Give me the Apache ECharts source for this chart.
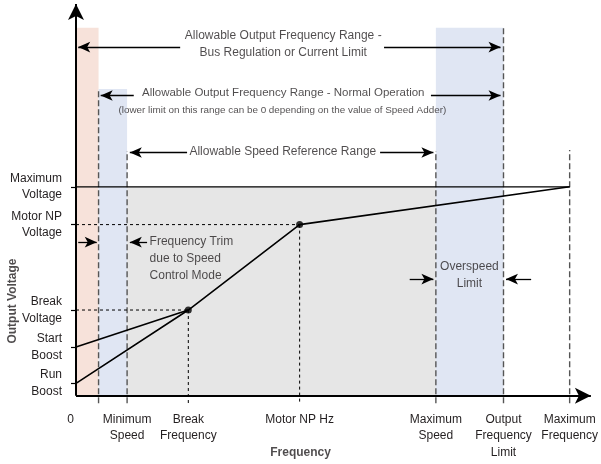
<!DOCTYPE html>
<html><head><meta charset="utf-8">
<script src="https://cdn.jsdelivr.net/npm/echarts@6/dist/echarts.min.js"></script>
<style>html,body{margin:0;padding:0;background:#fff}#c{width:601px;height:464px}</style>
</head><body><div id="c"></div>
<script>
// ---- data (frequency units: Maximum Frequency = 100; voltage units: Maximum Voltage = 100) ----
const freqNames = ['0', 'Minimum\nSpeed', 'Break\nFrequency', 'Motor NP Hz', 'Maximum\nSpeed', 'Output\nFrequency\nLimit', 'Maximum\nFrequency'];
const freqValues = [0, 10.35, 22.75, 45.3, 72.9, 86.6, 100];
const voltNames = ['Run\nBoost', 'Start\nBoost', 'Break\nVoltage', 'Motor NP\nVoltage', 'Maximum\nVoltage'];
const voltValues = [5.9, 23.3, 41.0, 81.9, 100];
const lowerFreqLimit = 4.57;          // lower limit of normal operation range
const busRangeTop = 176.2;            // height of bus-regulation bands
const normalRangeTop = 146.8;         // height of normal-operation band (left)
const speedRefTop = 117.1;            // top of speed reference dashed lines
const maxFreqTop = 117.6;
const belowAxis = -3.6;

const FONT = '"Liberation Sans","Arial",sans-serif';
const TXT = '#231f20';
const FS = 12;

const [F0, FMIN, FBRK, FNP, FMAXS, FOUT, FMAX] = freqValues;
const [VRUN, VSTART, VBRK, VNP, VMAX] = voltValues;

// annotation arrows: [from, to] in data units
const annArrows = [
  [[21.1, 166.9], [0.45, 166.9]],
  [[62.4, 166.9], [86.0, 166.9]],
  [[11.7, 143.7], [5.0, 143.7]],
  [[71.9, 143.7], [86.0, 143.7]],
  [[22.5, 116.4], [10.9, 116.4]],
  [[61.6, 116.4], [72.4, 116.4]],
  [[0.45, 73.5], [4.2, 73.5]],
  [[14.4, 73.5], [10.9, 73.5]],
  [[67.6, 55.8], [72.4, 55.8]],
  [[92.2, 55.8], [87.1, 55.8]]
];
// annotation texts: [x, y, text, fontSize, align]
const annTexts = [
  [41.98, 168.1, 'Allowable Output Frequency Range -\nBus Regulation or Current Limit', FS, 'center'],
  [41.98, 144.9, 'Allowable Output Frequency Range - Normal Operation', 11.5, 'center'],
  [41.8, 136.7, '(lower limit on this range can be 0 depending on the value of Speed Adder)', 9.9, 'center'],
  [41.9, 116.6, 'Allowable Speed Reference Range', FS, 'center'],
  [14.9, 65.4, 'Frequency Trim\ndue to Speed\nControl Mode', FS, 'left'],
  [79.7, 57.5, 'Overspeed\nLimit', FS, 'center']
];
const axisTitles = [
  [45.5, -27.5, 'Frequency', 0],
  [-12.9, 45.3, 'Output Voltage', 90]
];

const chart = echarts.init(document.getElementById('c'), null, {renderer: 'canvas'});

const vDashedLong = [
  [lowerFreqLimit, normalRangeTop],
  [FMIN, speedRefTop],
  [FMAXS, speedRefTop],
  [FOUT, busRangeTop + 0.4],
  [FMAX, maxFreqTop]
];
const series = [];
// bands
series.push({
  type: 'line', data: [], silent: true,
  markArea: {
    silent: true,
    data: [
      [{xAxis: F0, yAxis: 0, itemStyle: {color: '#f7e2da'}}, {xAxis: lowerFreqLimit, yAxis: busRangeTop}],
      [{xAxis: lowerFreqLimit, yAxis: 0, itemStyle: {color: '#e0e6f3'}}, {xAxis: FMIN, yAxis: normalRangeTop}],
      [{xAxis: FMIN, yAxis: 0, itemStyle: {color: '#e6e6e6'}}, {xAxis: FMAXS, yAxis: VMAX}],
      [{xAxis: FMAXS, yAxis: 0, itemStyle: {color: '#e0e6f3'}}, {xAxis: FOUT, yAxis: busRangeTop}]
    ]
  }
});
// long dashed verticals
vDashedLong.forEach(([x, top]) => series.push({
  type: 'line', data: [[x, belowAxis], [x, top]], symbol: 'none', silent: true,
  lineStyle: {color: '#555', width: 1.4, type: [6, 3]}
}));
// short dashed guide lines
[[[F0, VNP], [FNP, VNP]], [[F0, VBRK], [FBRK, VBRK]], [[FBRK, VBRK], [FBRK, -4]], [[FNP, VNP], [FNP, -4]]].forEach(d => series.push({
  type: 'line', data: d, symbol: 'none', silent: true,
  lineStyle: {color: '#000', width: 1, type: [3, 3]}
}));
// maximum voltage line
series.push({type: 'line', data: [[F0, VMAX], [FMAX, VMAX]], symbol: 'none', lineStyle: {color: '#000', width: 1.3}});
// V/Hz curves
series.push({type: 'line', data: [[F0, VSTART], [FBRK, VBRK]], symbol: 'none', lineStyle: {color: '#000', width: 1.6}});
series.push({type: 'line', data: [[F0, VRUN], [FBRK, VBRK], [FNP, VNP], [FMAX, VMAX]], symbol: 'none', lineStyle: {color: '#000', width: 1.6}});
series.push({type: 'scatter', data: [[FBRK, VBRK], [FNP, VNP]], symbolSize: 7, itemStyle: {color: '#000'}});
// axes with arrows + annotation arrows
series.push({
  type: 'line', data: [], silent: true,
  markLine: {
    silent: true, symbol: ['none', 'arrow'], label: {show: false},
    lineStyle: {color: '#000', width: 2, type: 'solid'},
    symbolSize: [12, 16],
    data: [
      [{coord: [0, 0]}, {coord: [104.3, 0]}],
      [{coord: [0, 0]}, {coord: [0, 187.5]}]
    ]
  }
});
series.push({
  type: 'line', data: [], silent: true,
  markLine: {
    silent: true, symbol: ['none', 'arrow'], label: {show: false},
    lineStyle: {color: '#000', width: 1.3, type: 'solid'},
    symbolSize: [8, 12],
    data: annArrows.map(([a, b]) => [{coord: a}, {coord: b}])
  }
});
// texts
series.push({
  type: 'scatter', symbolSize: 0, clip: false, silent: true,
  data: annTexts.map(([x, y, t, fs, al]) => ({
    value: [x, y],
    label: {show: true, position: 'inside', formatter: t, fontSize: fs, lineHeight: 17, align: al, verticalAlign: 'middle', color: TXT, fontFamily: FONT}
  })).concat(axisTitles.map(([x, y, t, r]) => ({
    value: [x, y],
    label: {show: true, position: 'inside', formatter: t, fontSize: 12, fontWeight: 'bold', rotate: r, align: 'center', verticalAlign: 'middle', color: TXT, fontFamily: FONT}
  })))
});

chart.setOption({
  animation: false,
  grid: {left: 76, right: 6, top: 3, bottom: 60, containLabel: false},
  xAxis: {
    type: 'value', min: 0, max: 104.5,
    splitLine: {show: false},
    axisLine: {show: false, onZero: false},
    axisTick: {show: false},
    axisLabel: {
      customValues: freqValues, margin: 7, color: TXT, fontSize: FS, lineHeight: 16.5, fontFamily: FONT,
      formatter: v => { const i = freqValues.indexOf(v); return i === 0 ? '{z|' + freqNames[0] + '}' : (freqNames[i] || ''); },
      rich: {z: {padding: [0, 11, 0, 0], fontSize: FS, color: TXT, fontFamily: FONT}}
    }
  },
  yAxis: {
    type: 'value', min: -4, max: 188,
    splitLine: {show: false},
    axisLine: {show: false, onZero: false},
    axisTick: {show: true, customValues: voltValues, length: 5, lineStyle: {color: '#000', width: 1.2}},
    axisLabel: {
      customValues: voltValues, margin: 14, color: TXT, fontSize: FS, lineHeight: 16.5, fontFamily: FONT, align: 'right',
      formatter: v => voltNames[voltValues.indexOf(v)] || ''
    }
  },
  series: series
});
</script></body></html>
